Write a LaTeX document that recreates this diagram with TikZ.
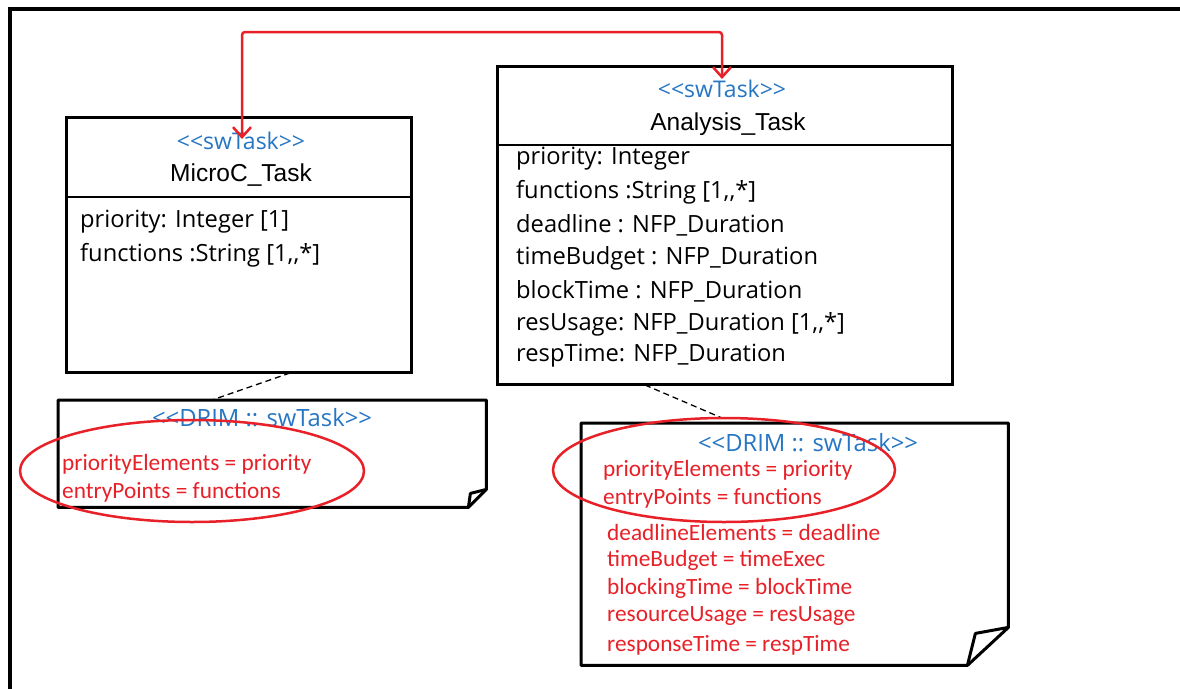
\documentclass[tikz,border=0pt]{standalone}
\usepackage{fontspec}
\setmainfont{Open Sans}
\newfontfamily\arialf{Liberation Sans}
\newfontfamily\calf{Carlito}
\usetikzlibrary{arrows.meta,shapes.geometric,calc}
\definecolor{stblue}{RGB}{38,118,196}
\definecolor{mred}{RGB}{232,32,40}
\newcommand{\myll}{<\kern0pt<}
\newcommand{\mygg}{>\kern0pt>}
\newcommand{\mycc}{,\kern0pt,}
\begin{document}
\begin{tikzpicture}[x=1pt,y=-1pt,
  classbox/.style={draw, line width=3pt, inner sep=0pt, anchor=north west},
  notebox/.style={inner sep=0pt, anchor=north west},
  noteline/.style={line width=3pt, line join=round},
  divider/.style={line width=1.5pt},
  stereo/.style={text=stblue, inner sep=0pt, font=\fontsize{23}{26}\selectfont},
  nstereo/.style={stereo, font=\fontsize{23.8}{27}\selectfont},
  cname/.style={inner sep=0pt, font=\arialf\fontsize{24.5}{28}\selectfont},
  attr/.style={inner sep=0pt, anchor=west, font=\fontsize{23.7}{26}\selectfont},
  tagv/.style={inner sep=0pt, anchor=west, text=mred, font=\calf\fontsize{23.3}{26}\selectfont},
  redloop/.style={draw=mred, line width=2.5pt, ellipse, inner sep=0pt},
  dashline/.style={dashed, line width=1.3pt, dash pattern=on 6pt off 4pt},
  redarrow/.style={draw=mred, line width=2.5pt, rounded corners=3pt,
    arrows={Straight Barb[length=10pt,width=18pt,line width=2.5pt]-Straight Barb[length=10pt,width=18pt,line width=2.5pt]}}
]
\useasboundingbox (0,0) rectangle (1180,688);
\fill[white] (0,0) rectangle (1180,688);
% outer frame
\draw[line width=4pt] (10,700) -- (10,9) -- (1190,9);

% MicroC_Task class
\node[classbox, minimum width=345pt, minimum height=255pt] (micro) at (65,116) {};
\coordinate (mdiv) at (0,197);
\draw[divider] (micro.west |- mdiv) -- (micro.east |- mdiv);
\node[stereo] (microst) at (241,141) {\myll swTask\mygg};
\node[cname] (microname) at (241,175) {MicroC\_Task};
\node[attr] (ma1) at (80,222) {priority: Integer [1]};
\node[attr] (ma2) at (80,255) {functions :String [1\mycc*]};

% Analysis_Task class
\node[classbox, minimum width=455pt, minimum height=318pt] (ana) at (496,65) {};
\coordinate (adiv) at (0,145);
\draw[divider] (ana.west |- adiv) -- (ana.east |- adiv);
\node[stereo] (anast) at (722,89) {\myll swTask\mygg};
\node[cname] (ananame) at (728,124) {Analysis\_Task};
\node[attr] (aa1) at (516,159) {priority: Integer};
\node[attr] (aa2) at (516,192) {functions :String [1\mycc*]};
\node[attr] (aa3) at (516,225) {deadline : NFP\_Duration};
\node[attr] (aa4) at (516,258) {timeBudget : NFP\_Duration};
\node[attr] (aa5) at (516,291) {blockTime : NFP\_Duration};
\node[attr] (aa6) at (516,324) {resUsage: NFP\_Duration [1\mycc*]};
\node[attr] (aa7) at (516,356) {respTime: NFP\_Duration};

% Note 1
\node[notebox, minimum width=428pt, minimum height=107pt] (n1) at (58,400) {};
\draw[noteline] (n1.north west) -- (n1.north east) -- ($(n1.south east)+(0,-18)$)
  -- ($(n1.south east)+(-18,0)$) -- (n1.south west) -- cycle;
\draw[noteline] ($(n1.south east)+(-18,0)$) -- ($(n1.south east)+(-16,-14)$) -- ($(n1.south east)+(0,-18)$);
\node[nstereo] (n1st) at (262,418) {\myll DRIM :: swTask\mygg};
\node[tagv] (n1a) at (62,464) {priorityElements = priority};
\node[tagv] (n1b) at (62,492) {entryPoints = functions};

% Note 2
\node[notebox, minimum width=427pt, minimum height=242pt] (n2) at (581,423) {};
\draw[noteline] (n2.north west) -- (n2.north east) -- ($(n2.south east)+(0,-38)$)
  -- ($(n2.south east)+(-41,0)$) -- (n2.south west) -- cycle;
\draw[noteline] ($(n2.south east)+(-41,0)$) -- ($(n2.south east)+(-33,-32)$) -- ($(n2.south east)+(0,-38)$);
\node[nstereo] (n2st) at (808,443) {\myll DRIM :: swTask\mygg};
\node[tagv] (n2a) at (603,470) {priorityElements = priority};
\node[tagv] (n2b) at (603,498) {entryPoints = functions};
\node[tagv] (n2c) at (607,532) {deadlineElements = deadline};
\node[tagv] (n2d) at (607,560) {timeBudget = timeExec};
\node[tagv] (n2e) at (607,588) {blockingTime = blockTime};
\node[tagv] (n2f) at (607,616) {resourceUsage = resUsage};
\node[tagv] (n2g) at (607,645) {responseTime = respTime};

% dashed connectors
\coordinate (m1) at (290,373);
\coordinate (n1top) at (212,400);
\draw[dashline] (m1) -- (n1top);
\coordinate (a1) at (645,385);
\coordinate (n2top) at (722,418);
\draw[dashline] (a1) -- (n2top);

% red highlight ellipses
\node[redloop, minimum width=344pt, minimum height=102pt] (e1) at (192,471) {};
\node[redloop, minimum width=342pt, minimum height=104pt] (e2) at (724,470) {};

% red arrow between the two classes
\coordinate (arA) at (242,139);
\coordinate (arB) at (722,79);
\coordinate (arC1) at (242,32);
\coordinate (arC2) at (722,32);
\draw[redarrow] (arA) -- (arC1) -- (arC2) -- (arB);
\end{tikzpicture}
\end{document}
